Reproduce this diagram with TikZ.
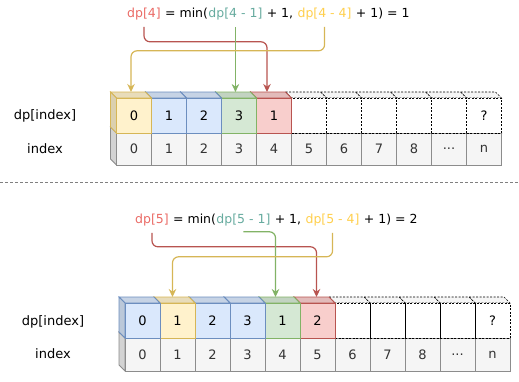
\documentclass[tikz,border=0pt]{standalone}
\usepackage{fontspec}
\setmainfont{DejaVu Sans}
\usetikzlibrary{arrows.meta}

\definecolor{yellowfill}{HTML}{FFF2CC}
\definecolor{yellowline}{HTML}{D6B656}
\definecolor{bluefill}{HTML}{DAE8FC}
\definecolor{blueline}{HTML}{6C8EBF}
\definecolor{greenfill}{HTML}{D5E8D4}
\definecolor{greenline}{HTML}{82B366}
\definecolor{redfill}{HTML}{F8CECC}
\definecolor{redline}{HTML}{B85450}
\definecolor{grayfill}{HTML}{F5F5F5}
\definecolor{grayline}{HTML}{8C8C8C}
\definecolor{graytext}{HTML}{333333}
\definecolor{txtred}{HTML}{EA6B66}
\definecolor{txtgreen}{HTML}{67AB9F}
\definecolor{txtyellow}{HTML}{FFCF4D}

\tikzset{
  cellbox/.style={draw, line width=0.8pt, inner sep=0pt, minimum width=35pt,
    font=\fontsize{13}{15}\selectfont},
  yellowcell/.style={draw=yellowline, line width=0.8pt},
  bluecell/.style={draw=blueline, line width=0.8pt},
  greencell/.style={draw=greenline, line width=0.8pt},
  redcell/.style={draw=redline, line width=0.8pt},
  dashcell/.style={draw=black, line width=0.7pt, dash pattern=on 2pt off 1.5pt,
    fill=white!96!black},
  graycell/.style={draw=grayline, line width=0.8pt, text=graytext},
  ftext/.style={inner sep=0pt, font=\fontsize{12.5}{15}\selectfont},
  rowlabel/.style={inner sep=0pt, font=\fontsize{13}{15}\selectfont},
  pick/.style={-{Stealth[length=8pt,width=7.5pt]}, line width=1.2pt,
    rounded corners=6pt, shorten <=7pt},
}

\newcommand{\etcmark}{...}

% one cube: name, front x, front y, height, fill, border style, text
\newcommand{\dpcell}[7]{%
  \filldraw[fill=#5!91!black, #6] ({#2-6},{#3-6}) -- ({#2+29},{#3-6})
    -- ({#2+35},{#3}) -- ({#2},{#3}) -- cycle;
  \filldraw[fill=#5!86!black, #6] ({#2-6},{#3-6}) -- ({#2},{#3})
    -- ({#2},{#3+#4}) -- ({#2-6},{#3+#4-6}) -- cycle;
  \node[cellbox, #6, fill=#5, minimum height=#4pt] (#1) at ({#2+17.5},{#3+#4/2}) {#7};
  \coordinate (#1t) at ({#2+14.5},{#3-6});
}

\begin{document}
\begin{tikzpicture}[x=1pt, y=-1pt]
  \useasboundingbox (0,0) rectangle (519,381);

  % upper example: dp[4]
  \foreach \i/\v in {10/n,9/\etcmark,8/8,7/7,6/6,5/5,4/4,3/3,2/2,1/1,0/0}
    \dpcell{ta\i}{116.5+35*\i}{133}{32}{grayfill}{graycell}{\v};
  \foreach \i/\v/\f/\s in {10/?/white/dashcell,9//white/dashcell,8//white/dashcell,
      7//white/dashcell,6//white/dashcell,5//white/dashcell,4/1/redfill/redcell,
      3/3/greenfill/greencell,2/2/bluefill/bluecell,1/1/bluefill/bluecell,
      0/0/yellowfill/yellowcell}
    \dpcell{a\i}{116.5+35*\i}{98}{35}{\f}{\s}{\v};

  \node[rowlabel] (lbla) at (45,116) {dp[index]};
  \node[rowlabel] (lblia) at (45,149) {index};

  \node[ftext, text=txtred, anchor=base west] (r4) at (127,17) {dp[4]};
  \node[ftext, anchor=base west] (m4) at (r4.base east) {\ = min(};
  \node[ftext, text=txtgreen, anchor=base west] (g4) at (m4.base east) {dp[4 - 1]};
  \node[ftext, anchor=base west] (p4) at (g4.base east) {\ + 1,};
  \node[ftext, text=txtyellow, anchor=base west] (y4) at ([xshift=4pt]p4.base east) {dp[4 - 4]};
  \node[ftext, anchor=base west] (e4) at (y4.base east) {\ + 1) = 1};

  \draw[pick, draw=redline] (r4.south) -- ++(0,22) -| ([xshift=-4pt]a4t);
  \draw[pick, draw=greenline] (g4.south) -- (g4.south |- a3t);
  \draw[pick, draw=yellowline] (y4.south) -- ++(0,31) -| (a0t);

  % separator
  \draw[gray, line width=0.8pt, dash pattern=on 3pt off 2pt] (0,182) -- (519,182);

  % lower example: dp[5]
  \foreach \i/\v in {10/n,9/\etcmark,8/8,7/7,6/6,5/5,4/4,3/3,2/2,1/1,0/0}
    \dpcell{tb\i}{125+35*\i}{338}{33}{grayfill}{graycell}{\v};
  \foreach \i/\v/\f/\s in {10/?/white/dashcell,9//white/dashcell,8//white/dashcell,
      7//white/dashcell,6//white/dashcell,5/2/redfill/redcell,4/1/greenfill/greencell,
      3/3/bluefill/bluecell,2/2/bluefill/bluecell,1/1/yellowfill/yellowcell,
      0/0/bluefill/bluecell}
    \dpcell{b\i}{125+35*\i}{303}{35}{\f}{\s}{\v};

  \node[rowlabel] (lblb) at (53,322) {dp[index]};
  \node[rowlabel] (lblib) at (53,354) {index};

  \node[ftext, text=txtred, anchor=base west] (r5) at (135,223) {dp[5]};
  \node[ftext, anchor=base west] (m5) at (r5.base east) {\ = min(};
  \node[ftext, text=txtgreen, anchor=base west] (g5) at (m5.base east) {dp[5 - 1]};
  \node[ftext, anchor=base west] (p5) at (g5.base east) {\ + 1,};
  \node[ftext, text=txtyellow, anchor=base west] (y5) at ([xshift=4pt]p5.base east) {dp[5 - 4]};
  \node[ftext, anchor=base west] (e5) at (y5.base east) {\ + 1) = 2};

  \draw[pick, draw=redline] (r5.south) -- ++(0,21) -| ([xshift=2pt]b5t);
  \draw[pick, draw=greenline, shorten <=0pt] ([yshift=-6pt]g5.south) -| ([xshift=-4pt]b4t);
  \draw[pick, draw=yellowline] (y5.south) -- ++(0,31) -| ([xshift=-2pt]b1t);
\end{tikzpicture}
\end{document}
